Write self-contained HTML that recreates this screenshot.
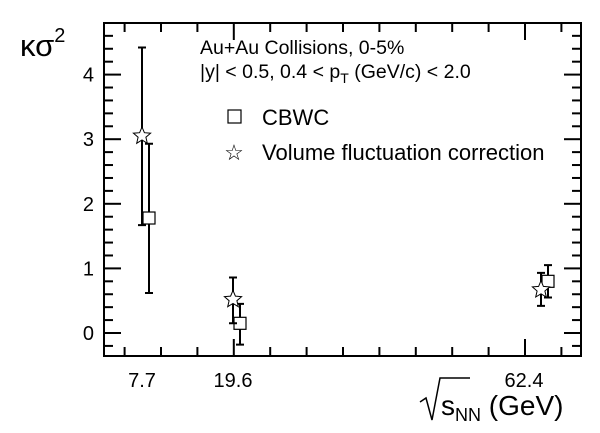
<!DOCTYPE html>
<html><head><meta charset="utf-8"><style>
body{margin:0;background:#fff}
svg{display:block;font-family:"Liberation Sans",sans-serif}
</style></head><body>
<svg id="c" width="600" height="433">
<rect x="104" y="23" width="477" height="333" fill="none" stroke="#000" stroke-width="2"/>
<g id="ticks"></g><g id="marks"></g>
<text x="200" y="54" font-size="19.5">Au+Au Collisions, 0-5%</text>
<text x="200" y="78" font-size="19.5">|y| &lt; 0.5, 0.4 &lt; p<tspan dy="5" font-size="14">T</tspan><tspan dy="-5"> (GeV/c) &lt; 2.0</tspan></text>
<g>
<rect x="228" y="110" width="13" height="13" fill="#fff" stroke="#000" stroke-width="1.2"/>
<text x="262" y="125" font-size="22">CBWC</text>
<text x="234" y="160" font-size="22" text-anchor="middle">☆</text>
<text x="262" y="160" font-size="22">Volume fluctuation correction</text>
</g>
<text x="20" y="56" font-size="31">κσ<tspan dy="-14" font-size="20">2</tspan></text>
<g>
<path d="M420,402 L426,398 L432,420 L440,378 L470,378" fill="none" stroke="#000" stroke-width="1.5"/>
<text x="441" y="415" font-size="28">s<tspan dy="6" font-size="18">NN</tspan><tspan dy="-6"> (GeV)</tspan></text>
</g>
</svg>
<script>
const energies=["7.7","19.6","62.4"];
const cbwc=[1.78,0.15,0.8];
const cbwcHi=[2.93,0.45,1.05];
const cbwcLo=[0.62,-0.18,0.55];
const vfc=[3.05,0.52,0.67];
const vfcHi=[4.42,0.86,0.93];
const vfcLo=[1.67,0.15,0.42];
const yTicks=[0,1,2,3,4];
const catPos=[142,233,524];
const y=v=>333-v*64.6;
const xs=(i,off)=>catPos[i]+off+(i===2?17:0);
const NS="http://www.w3.org/2000/svg";
const tk=document.getElementById('ticks'),mk=document.getElementById('marks');
function el(p,t,a){const e=document.createElementNS(NS,t);for(const k in a)e.setAttribute(k,a[k]);p.appendChild(e);return e;}
for(let v=-0.2;v<=4.8;v+=0.2){const yy=y(v);if(yy<24||yy>355)continue;const maj=Math.abs(v-Math.round(v))<0.01;
const l=el(tk,'line',{x1:105,x2:105+(maj?16:8),y1:yy,y2:yy,stroke:'#000','stroke-width':2});

const r=el(tk,'line',{x1:580,x2:580-(maj?16:8),y1:yy,y2:yy,stroke:'#000','stroke-width':2});
}
yTicks.forEach(v=>{const t=el(tk,'text',{x:94,y:y(v)+7,'font-size':20,'text-anchor':'end'});t.textContent=v;
});
for(let k=0;k<13;k++){const xx=124.6+k*36.4;if(xx>579)break;const maj=(k===3||k===11);
const l=el(tk,'line',{x1:xx,x2:xx,y1:355,y2:355-(maj?16:8),stroke:'#000','stroke-width':2});

const r=el(tk,'line',{x1:xx,x2:xx,y1:24,y2:24+(maj?16:8),stroke:'#000','stroke-width':2});
}
energies.forEach((e,i)=>{const t=el(tk,'text',{x:catPos[i],y:387,'font-size':20,'text-anchor':'middle'});t.textContent=e;
});
function err(x,hi,lo){const g=el(mk,'path',{d:`M${x},${y(hi)}V${y(lo)}M${x-4},${y(hi)}h8M${x-4},${y(lo)}h8`,stroke:'#000','stroke-width':2,fill:'none'});
}
function star(cx,cy,r){let p=[];for(let i=0;i<10;i++){const a=-Math.PI/2+i*Math.PI/5,rr=i%2?r*0.45:r;p.push((cx+rr*Math.cos(a)).toFixed(1)+','+(cy+rr*Math.sin(a)).toFixed(1));}return p.join(' ');}
energies.forEach((e,i)=>{const x=xs(i,7);err(x,cbwcHi[i],cbwcLo[i]);
const r=el(mk,'rect',{x:x-6,y:y(cbwc[i])-6,width:12,height:12,fill:'#fff',stroke:'#000','stroke-width':1.2});
});
energies.forEach((e,i)=>{const x=xs(i,0);err(x,vfcHi[i],vfcLo[i]);
const s=el(mk,'polygon',{points:star(x,y(vfc[i]),9),fill:'#fff',stroke:'#000','stroke-width':1});
});
</script>
</body></html>
